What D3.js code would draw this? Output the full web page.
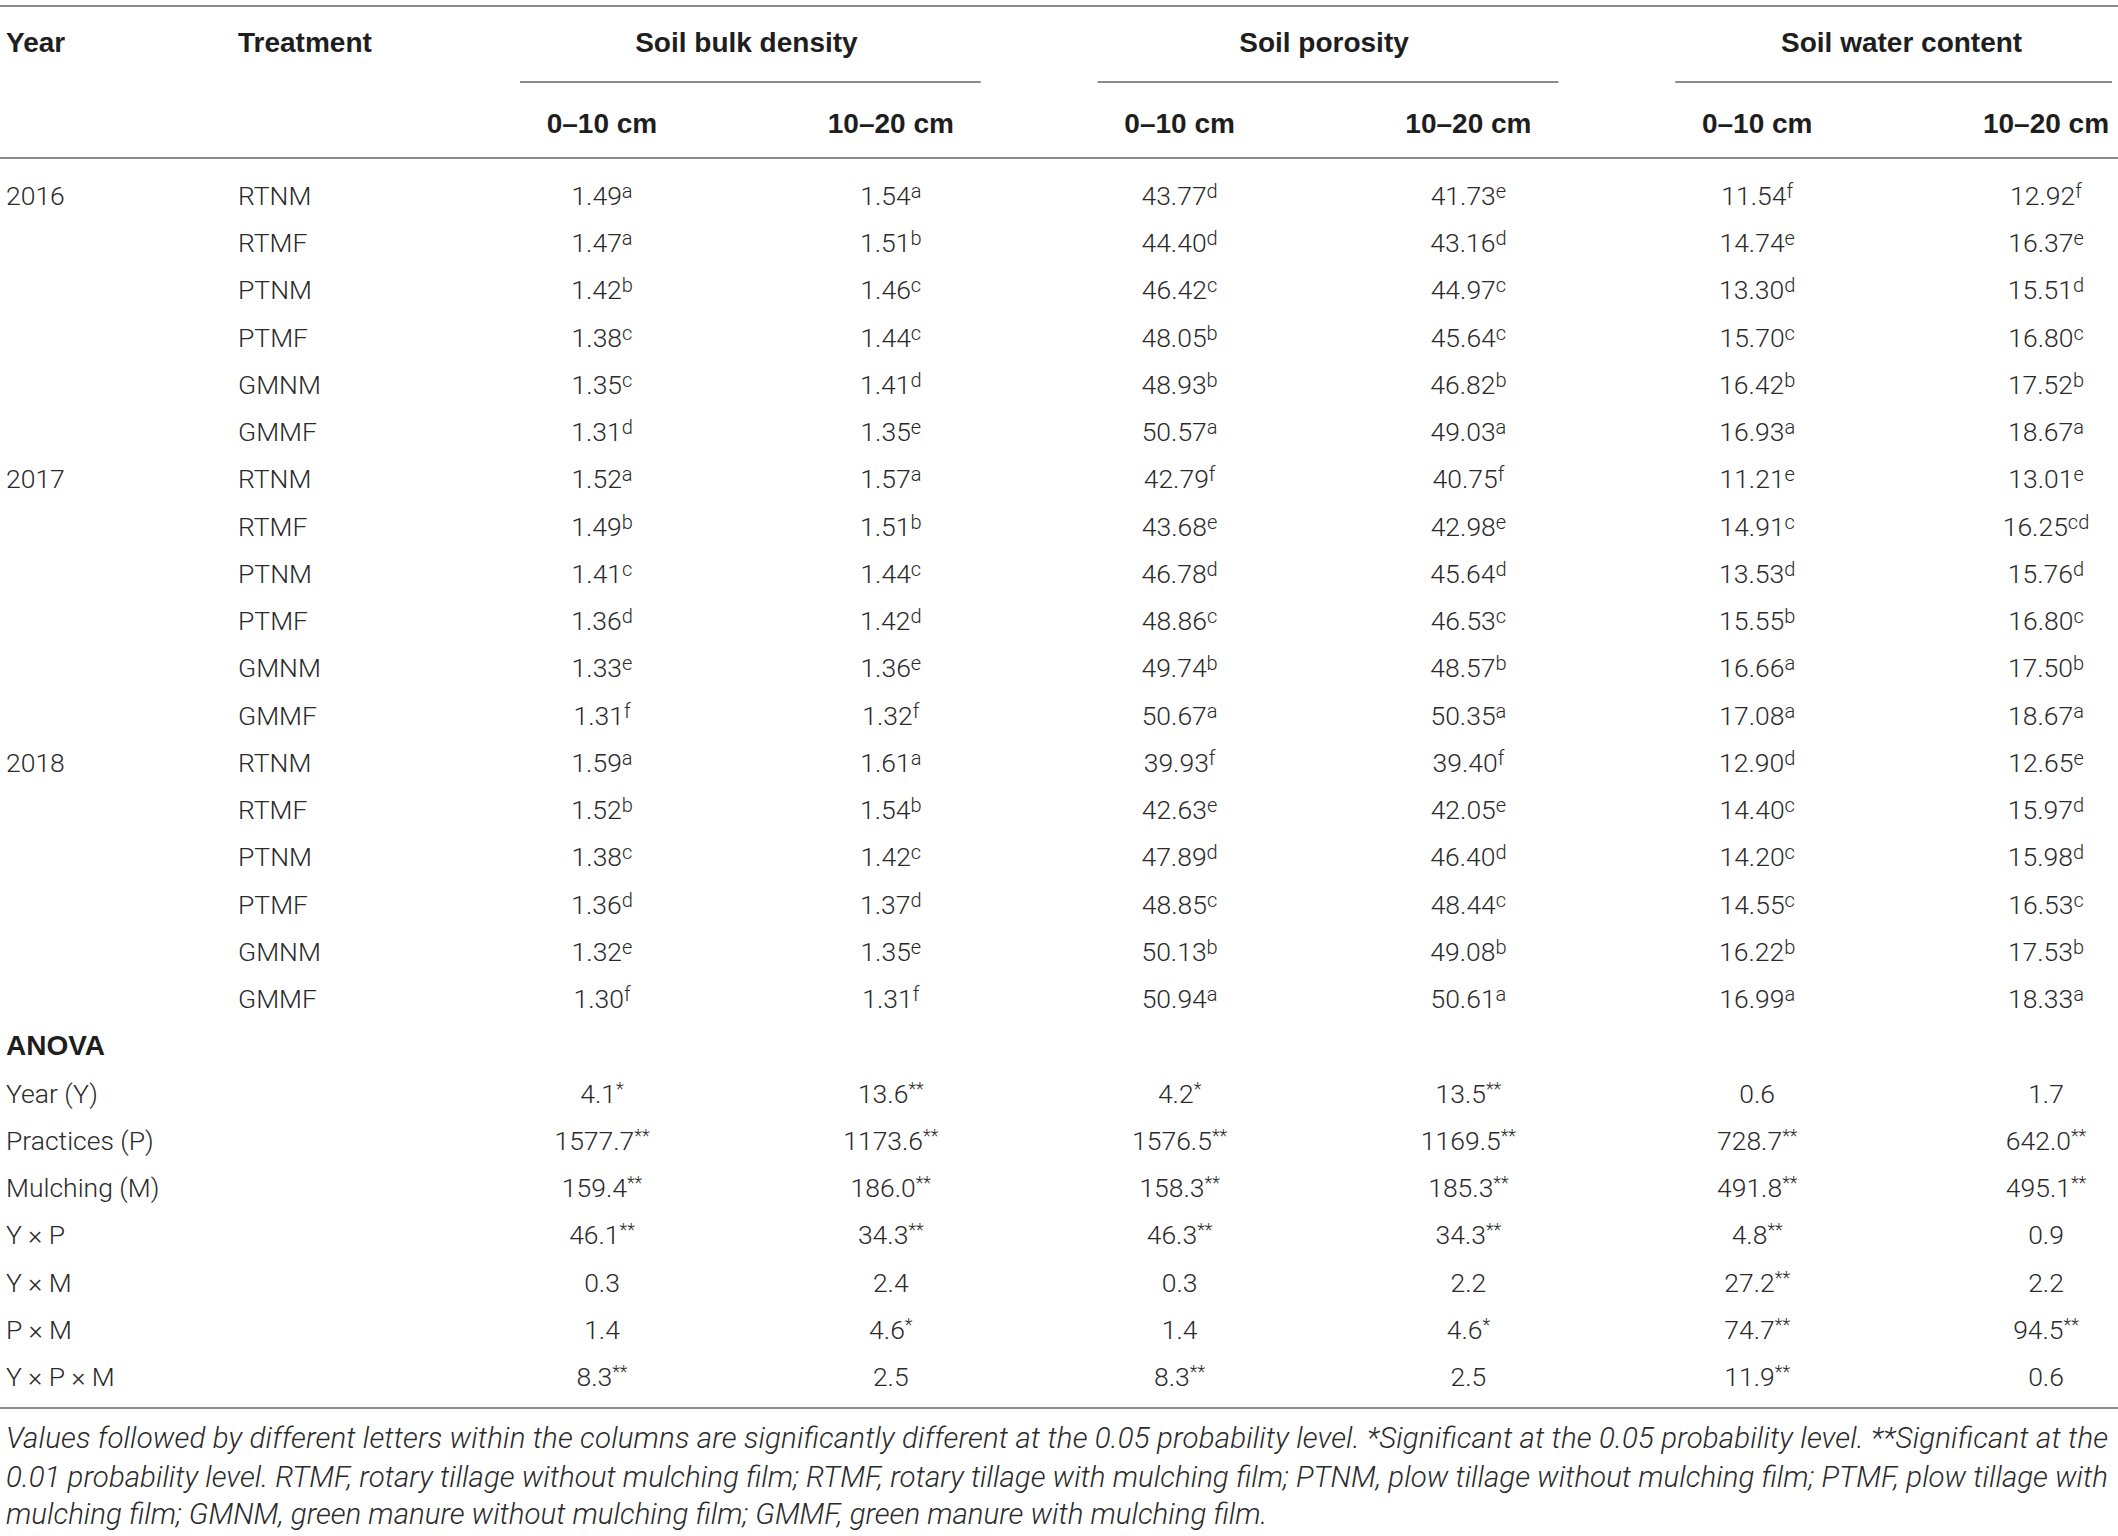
<!DOCTYPE html>
<html><head><meta charset="utf-8">
<script src="https://cdn.jsdelivr.net/npm/d3@7"></script>
<style>body{margin:0;background:#fff}</style>
</head><body>
<svg id="chart" width="2118" height="1536"></svg>
<script>
// ---------------- DATA ----------------
const years = ["2016", "2017", "2018"];
const treatments = ["RTNM", "RTMF", "PTNM", "PTMF", "GMNM", "GMMF"];
const groupTitles = ["Soil bulk density", "Soil porosity", "Soil water content"];
const depthLabels = ["0–10 cm", "10–20 cm"];

// 18 rows: 2016 (6 treatments), 2017, 2018
const bulk0_10 = [1.49,1.47,1.42,1.38,1.35,1.31, 1.52,1.49,1.41,1.36,1.33,1.31, 1.59,1.52,1.38,1.36,1.32,1.30];
const bulk0_10Sig = ["a","a","b","c","c","d", "a","b","c","d","e","f", "a","b","c","d","e","f"];
const bulk10_20 = [1.54,1.51,1.46,1.44,1.41,1.35, 1.57,1.51,1.44,1.42,1.36,1.32, 1.61,1.54,1.42,1.37,1.35,1.31];
const bulk10_20Sig = ["a","b","c","c","d","e", "a","b","c","d","e","f", "a","b","c","d","e","f"];
const poro0_10 = [43.77,44.40,46.42,48.05,48.93,50.57, 42.79,43.68,46.78,48.86,49.74,50.67, 39.93,42.63,47.89,48.85,50.13,50.94];
const poro0_10Sig = ["d","d","c","b","b","a", "f","e","d","c","b","a", "f","e","d","c","b","a"];
const poro10_20 = [41.73,43.16,44.97,45.64,46.82,49.03, 40.75,42.98,45.64,46.53,48.57,50.35, 39.40,42.05,46.40,48.44,49.08,50.61];
const poro10_20Sig = ["e","d","c","c","b","a", "f","e","d","c","b","a", "f","e","d","c","b","a"];
const water0_10 = [11.54,14.74,13.30,15.70,16.42,16.93, 11.21,14.91,13.53,15.55,16.66,17.08, 12.90,14.40,14.20,14.55,16.22,16.99];
const water0_10Sig = ["f","e","d","c","b","a", "e","c","d","b","a","a", "d","c","c","c","b","a"];
const water10_20 = [12.92,16.37,15.51,16.80,17.52,18.67, 13.01,16.25,15.76,16.80,17.50,18.67, 12.65,15.97,15.98,16.53,17.53,18.33];
const water10_20Sig = ["f","e","d","c","b","a", "e","cd","d","c","b","a", "e","d","d","c","b","a"];

// ANOVA (F values)
const anovaSources = ["Year (Y)", "Practices (P)", "Mulching (M)", "Y × P", "Y × M", "P × M", "Y × P × M"];
const anovaBulk0_10 = [4.1, 1577.7, 159.4, 46.1, 0.3, 1.4, 8.3];
const anovaBulk0_10Sig = ["*","**","**","**","","","**"];
const anovaBulk10_20 = [13.6, 1173.6, 186.0, 34.3, 2.4, 4.6, 2.5];
const anovaBulk10_20Sig = ["**","**","**","**","","*",""];
const anovaPoro0_10 = [4.2, 1576.5, 158.3, 46.3, 0.3, 1.4, 8.3];
const anovaPoro0_10Sig = ["*","**","**","**","","","**"];
const anovaPoro10_20 = [13.5, 1169.5, 185.3, 34.3, 2.2, 4.6, 2.5];
const anovaPoro10_20Sig = ["**","**","**","**","","*",""];
const anovaWater0_10 = [0.6, 728.7, 491.8, 4.8, 27.2, 74.7, 11.9];
const anovaWater0_10Sig = ["","**","**","**","**","**","**"];
const anovaWater10_20 = [1.7, 642.0, 495.1, 0.9, 2.2, 94.5, 0.6];
const anovaWater10_20Sig = ["","**","**","","","**",""];

const footnoteLines = [
  "Values followed by different letters within the columns are significantly different at the 0.05 probability level. *Significant at the 0.05 probability level. **Significant at the",
  "0.01 probability level. RTMF, rotary tillage without mulching film; RTMF, rotary tillage with mulching film; PTNM, plow tillage without mulching film; PTMF, plow tillage with",
  "mulching film; GMNM, green manure without mulching film; GMMF, green manure with mulching film."
];

// ---------------- BUILD ----------------
const columns = [
  {v: bulk0_10,   s: bulk0_10Sig,   a: anovaBulk0_10,   as: anovaBulk0_10Sig},
  {v: bulk10_20,  s: bulk10_20Sig,  a: anovaBulk10_20,  as: anovaBulk10_20Sig},
  {v: poro0_10,   s: poro0_10Sig,   a: anovaPoro0_10,   as: anovaPoro0_10Sig},
  {v: poro10_20,  s: poro10_20Sig,  a: anovaPoro10_20,  as: anovaPoro10_20Sig},
  {v: water0_10,  s: water0_10Sig,  a: anovaWater0_10,  as: anovaWater0_10Sig},
  {v: water10_20, s: water10_20Sig, a: anovaWater10_20, as: anovaWater10_20Sig}
];

const W = 2118;
const svg = d3.select("#chart");
const bodyFont = "Roboto, 'Liberation Sans', Arial, sans-serif";
const headFont = "'Liberation Sans', Arial, Helvetica, sans-serif";
const textColor = "#2a2a2a";
const lineColor = "#8c8c8c";

const nRows = years.length * treatments.length + 1 + anovaSources.length; // 26
const x = d3.scaleLinear().domain([0, 5]).range([602, 2046]);
const y = d3.scaleLinear().domain([0, nRows - 1]).range([205, 1386]); // baselines
const f2 = d3.format(".2f"), f1 = d3.format(".1f");

// Rules
const rules = [6, 158, 1408];
svg.selectAll("line.rule").data(rules).join("line")
  .attr("class", "rule")
  .attr("x1", 0).attr("x2", W)
  .attr("y1", d => d).attr("y2", d => d)
  .attr("stroke", lineColor).attr("stroke-width", 2);

// Group underlines
svg.selectAll("line.grp").data(groupTitles).join("line")
  .attr("class", "grp")
  .attr("x1", (d, i) => x(2 * i) - 82)
  .attr("x2", (d, i) => Math.min(x(2 * i + 1) + 90, 2112))
  .attr("y1", 82).attr("y2", 82)
  .attr("stroke", lineColor).attr("stroke-width", 2);

// Header texts
const head = svg.append("g")
  .attr("font-family", headFont).attr("font-weight", "bold")
  .attr("font-size", 28).attr("fill", "#1e1e1e");
head.append("text").attr("x", 6).attr("y", 52).text("Year");
head.append("text").attr("x", 238).attr("y", 52).text("Treatment");
head.selectAll("text.gt").data(groupTitles).join("text")
  .attr("class", "gt")
  .attr("text-anchor", "middle")
  .attr("x", (d, i) => (x(2 * i) + x(2 * i + 1)) / 2)
  .attr("y", 52)
  .text(d => d);
head.selectAll("text.dl").data(d3.range(6)).join("text")
  .attr("class", "dl")
  .attr("text-anchor", "middle")
  .attr("x", d => x(d))
  .attr("y", 133)
  .text(d => depthLabels[d % 2]);

// Body
const body = svg.append("g")
  .attr("font-family", bodyFont).attr("font-weight", 300)
  .attr("font-size", 26.5).attr("fill", textColor);

// Year labels
body.selectAll("text.yr").data(years).join("text")
  .attr("class", "yr")
  .attr("x", 6).attr("y", (d, i) => y(i * treatments.length))
  .text(d => d);

// Treatment labels
const rowsData = d3.range(years.length * treatments.length);
body.selectAll("text.tr").data(rowsData).join("text")
  .attr("class", "tr")
  .attr("x", 238).attr("y", r => y(r))
  .text(r => treatments[r % treatments.length]);

// Cells helper
function cell(sel, main, sup, supSize, supDy) {
  sel.append("tspan").text(main);
  if (sup) {
    sel.append("tspan").attr("font-size", supSize).attr("dy", supDy).text(sup);
  }
}

columns.forEach((col, c) => {
  col.v.forEach((val, r) => {
    const t = body.append("text")
      .attr("text-anchor", "middle")
      .attr("x", x(c)).attr("y", y(r));
    cell(t, f2(val), col.s[r], 20, -7);
  });
});

// ANOVA title
const anovaStart = years.length * treatments.length;
svg.append("text")
  .attr("font-family", headFont).attr("font-weight", "bold")
  .attr("font-size", 28).attr("fill", "#1e1e1e")
  .attr("x", 6).attr("y", y(anovaStart))
  .text("ANOVA");

// ANOVA source labels
body.selectAll("text.src").data(anovaSources).join("text")
  .attr("class", "src")
  .attr("x", 6).attr("y", (d, i) => y(anovaStart + 1 + i))
  .text(d => d);

columns.forEach((col, c) => {
  col.a.forEach((val, i) => {
    const t = body.append("text")
      .attr("text-anchor", "middle")
      .attr("x", x(c)).attr("y", y(anovaStart + 1 + i));
    cell(t, f1(val), col.as[i], 18, -8);
  });
});

// Footnote
const foot = svg.append("g")
  .attr("font-family", bodyFont).attr("font-weight", 300)
  .attr("font-style", "italic").attr("fill", textColor);
const probe = foot.append("text").attr("font-size", 24).text(footnoteLines[2]);
const natW = probe.node().getComputedTextLength();
probe.remove();
const fs = 24 * 1262 / natW;
foot.attr("font-size", fs);
const footY = [1448, 1487, 1524];
foot.selectAll("text.fn").data(footnoteLines).join("text")
  .attr("class", "fn")
  .attr("x", 6)
  .attr("y", (d, i) => footY[i])
  .each(function(d, i) {
    if (i < 2) d3.select(this).attr("textLength", 2102).attr("lengthAdjust", "spacing");
  })
  .text(d => d);
</script>
</body></html>
